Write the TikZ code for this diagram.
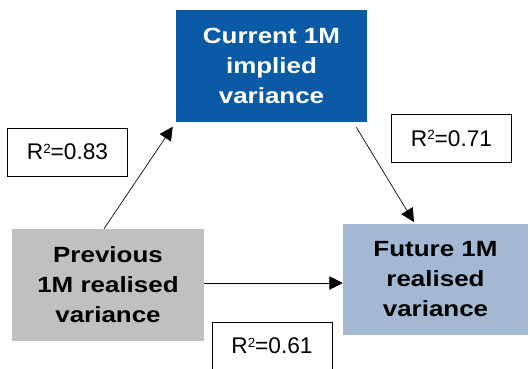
\documentclass[tikz,border=0pt]{standalone}
\usepackage{fontspec}
\setmainfont{Liberation Sans}
\newfontfamily\widefont[FakeStretch=1.18]{Liberation Sans}
\usetikzlibrary{arrows.meta}
\definecolor{implblue}{RGB}{11,90,166}
\definecolor{futblue}{RGB}{163,185,211}
\definecolor{prevgrey}{RGB}{192,192,192}
\newcommand{\rsq}[1]{R\raisebox{5pt}{\fontsize{10}{10}\selectfont 2}=#1}

\begin{document}
\begin{tikzpicture}[x=0.75pt, y=-0.75pt,
    varbox/.style={align=center, inner sep=0pt, font=\widefont\bfseries\fontsize{16.5}{22.5}\selectfont},
    rsqbox/.style={draw, line width=0.75pt, inner sep=0pt, minimum width=90pt, minimum height=36pt,
                   font=\fontsize{17}{19}\selectfont},
    link/.style={line width=0.5pt, -{Triangle[length=10pt, width=10pt]}}]
    \clip (0,0) rectangle (530,368);
    % variance boxes
    \node[varbox, fill=implblue, text=white, minimum width=143.25pt, minimum height=84pt]
      (cur) at (271.5,66) {Current 1M\\implied\\variance};
    \node[varbox, fill=prevgrey, minimum width=144pt, minimum height=84pt]
      (prev) at (108,285) {Previous\\1M realised\\variance};
    \node[varbox, fill=futblue, minimum width=138.75pt, minimum height=83.25pt]
      (fut) at (435.5,279.5) {Future 1M\\realised\\variance};
    % R^2 labels
    \node[rsqbox] (r83) at (67.5,152) {\rsq{0.83}};
    \node[rsqbox] (r71) at (451.5,138.5) {\rsq{0.71}};
    \node[rsqbox] (r61) at (272,346) {\rsq{0.61}};
    % links
    \draw[link, shorten >=4pt] ([xshift=-3pt]prev.north) -- (cur.south west);
    \draw[link, shorten <=4.5pt, shorten >=1.5pt] ([xshift=-10.5pt]cur.south east) -- ([xshift=-15.4pt]fut.north);
    \draw[link] ([yshift=1.5pt]prev.east) -- ([yshift=1.5pt]prev.east -| fut.west);
\end{tikzpicture}
\end{document}
